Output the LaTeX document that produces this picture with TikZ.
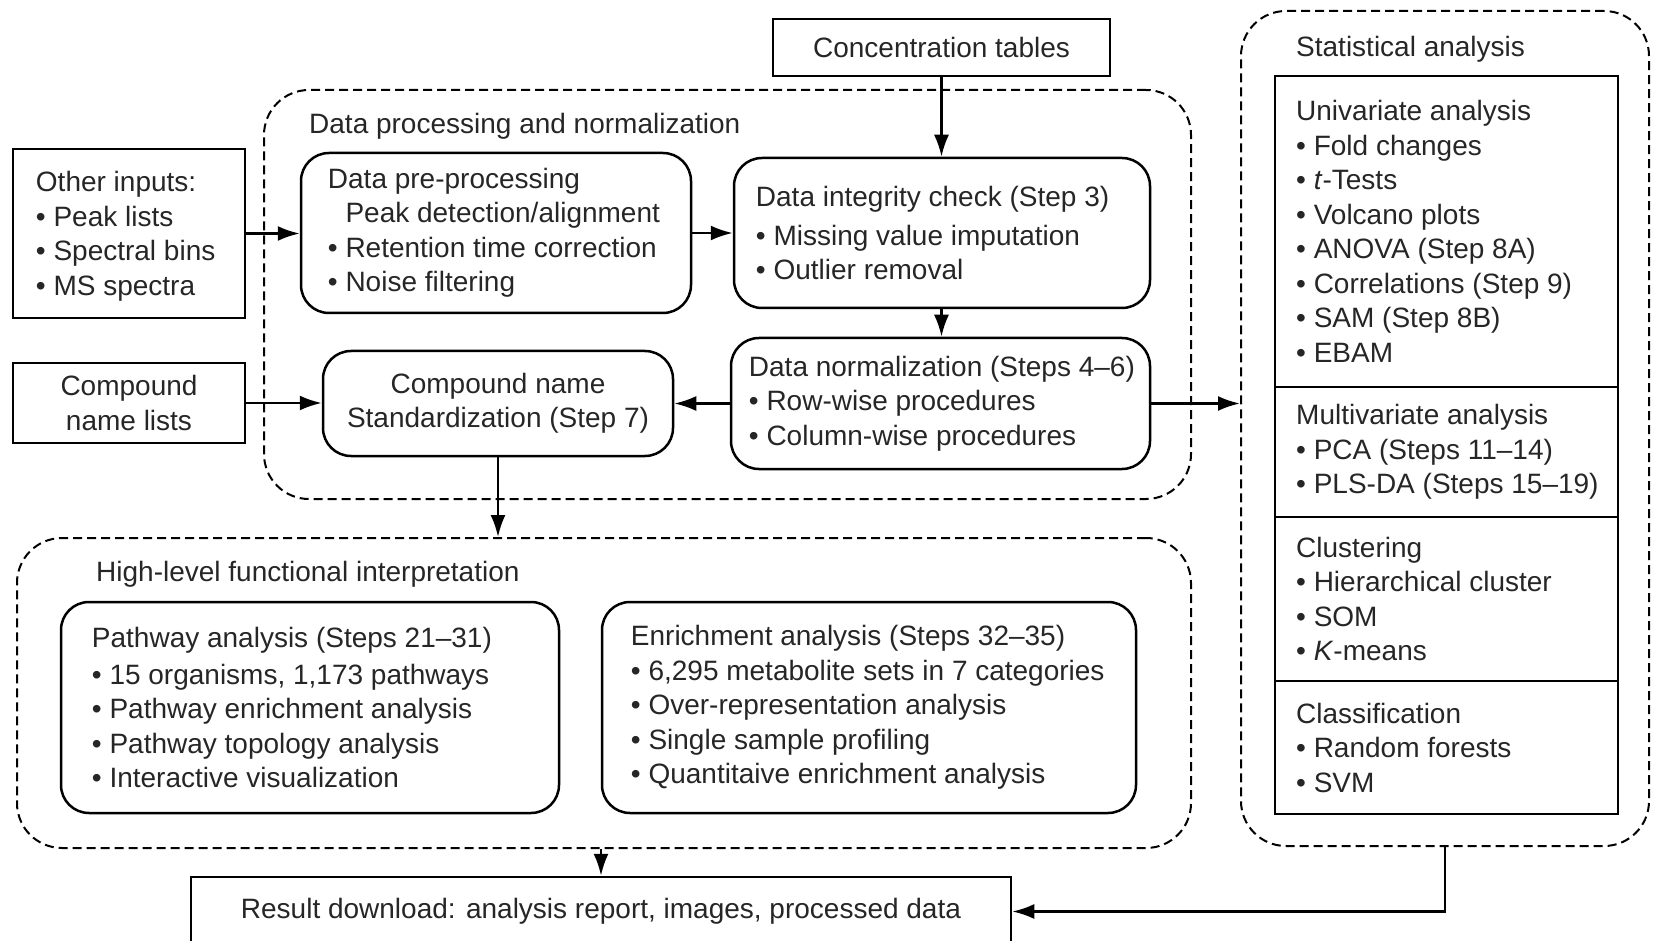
\documentclass[tikz,border=0pt]{standalone}
\usepackage{fontspec}
\setmainfont{Liberation Sans}
\usetikzlibrary{arrows.meta,positioning}

\newcommand{\itm}{\textbullet\ }

\tikzset{
  box/.style={draw, line width=2.5pt, inner sep=0pt, align=center},
  rbox/.style={box, rounded corners=28pt},
  part/.style={box, outer sep=0pt, minimum width=343pt},
  group/.style={draw, line width=2pt, dash pattern=on 9pt off 5pt, rounded corners=45pt, inner sep=0pt},
  txt/.style={inner sep=0pt, align=left},
  conn/.style={line width=2.5pt, ->},
}

\begin{document}
\begin{tikzpicture}[x=1pt, y=-1pt, >={Latex[length=22pt,width=15pt]},
  every node/.style={font=\fontsize{28}{34.5}\selectfont, text=black!85}]
\useasboundingbox (0,0) rectangle (1655,941);

% dashed groups
\node[group, minimum width=927pt, minimum height=409pt] (proc) at (727.5,294.5) {};
\node[txt, anchor=west] (proc-t) at (309,126) {Data processing and normalization};
\node[group, minimum width=408pt, minimum height=835pt] (stat) at (1445,428.5) {};
\node[txt, anchor=west] (stat-t) at (1296,49) {Statistical analysis};
\node[group, minimum width=1174pt, minimum height=310pt] (hl) at (604,693) {};
\node[txt, anchor=west] (hl-t) at (96,574) {High-level functional interpretation};

% inputs
\node[box, minimum width=337pt, minimum height=57pt] (conc) at (941.5,47.5) {Concentration tables};
\node[box, minimum width=232pt, minimum height=169pt] (other) at (129,233.5) {};
\node[txt, right=24pt of other.west, yshift=-3pt] (other-t) {Other inputs:\\ \itm Peak lists\\ \itm Spectral bins\\ \itm MS spectra};
\node[box, minimum width=232pt, minimum height=80pt] (lists) at (129,403) {Compound\\ name lists};

% processing steps
\node[rbox, minimum width=390pt, minimum height=160pt] (prep) at (496,233) {};
\node[txt, right=28pt of prep.west] (prep-t) {Data pre-processing\\ \hphantom{\itm}Peak detection/alignment\\ \itm Retention time correction\\ \itm Noise filtering};
\node[rbox, minimum width=416pt, minimum height=150pt] (integ) at (942,233) {};
\node[txt, right=23pt of integ.west] (integ-t) {Data integrity check (Step 3)\\[4pt] \itm Missing value imputation\\ \itm Outlier removal};
\node[rbox, minimum width=419pt, minimum height=131pt] (norm) at (940.5,403.5) {};
\node[txt, right=19pt of norm.west] (norm-t) {Data normalization (Steps 4--6)\\ \itm Row-wise procedures\\ \itm Column-wise procedures};
\node[rbox, minimum width=350pt, minimum height=105pt] (std) at (498,403.5) {Compound name\\ Standardization (Step 7)};

% statistics
\node[part, minimum height=311pt] (uni) at (1446.5,231.5) {};
\node[part, minimum height=130pt, below=0pt of uni] (multi) {};
\node[part, minimum height=164pt, below=0pt of multi] (clus) {};
\node[part, minimum height=133pt, below=0pt of clus] (cls) {};
\node[txt, right=21pt of uni.west] (uni-t) {Univariate analysis\\ \itm Fold changes\\ \itm \textit{t}-Tests\\ \itm Volcano plots\\ \itm ANOVA (Step 8A)\\ \itm Correlations (Step 9)\\ \itm SAM (Step 8B)\\ \itm EBAM};
\node[txt, right=21pt of multi.west] (multi-t) {Multivariate analysis\\ \itm PCA (Steps 11--14)\\ \itm PLS-DA (Steps 15--19)};
\node[txt, right=21pt of clus.west] (clus-t) {Clustering\\ \itm Hierarchical cluster\\ \itm SOM\\ \itm \textit{K}-means};
\node[txt, right=21pt of cls.west] (cls-t) {Classification\\ \itm Random forests\\ \itm SVM};

% interpretation
\node[rbox, minimum width=498pt, minimum height=211pt] (path) at (310,707.5) {};
\node[txt, right=32pt of path.west] (path-t) {Pathway analysis (Steps 21--31)\\[2pt] \itm 15 organisms, 1,173 pathways\\ \itm Pathway enrichment analysis\\ \itm Pathway topology analysis\\ \itm Interactive visualization};
\node[rbox, minimum width=534pt, minimum height=211pt] (enr) at (869,707.5) {};
\node[txt, right=30pt of enr.west] (enr-t) {Enrichment analysis (Steps 32--35)\\ \itm 6,295 metabolite sets in 7 categories\\ \itm Over-representation analysis\\ \itm Single sample profiling\\ \itm Quantitaive enrichment analysis};

% output
\node[box, minimum width=820pt, minimum height=69pt] (res) at (601,911.5) {Result download: analysis report, images, processed data};

\draw[conn] (other.east) -- (other.east -| prep.west);
\draw[conn] (prep.east) -- (prep.east -| integ.west);
\draw[conn] (conc.south) -- (conc.south |- integ.north);
\draw[conn] (integ.south -| conc.south) -- (norm.north -| conc.south);
\draw[conn] (lists.east) -- (lists.east -| std.west);
\draw[conn] (norm.west |- std.east) -- (std.east);
\draw[conn] (norm.east |- std.east) -- (std.east -| stat.west);
\draw[conn] (std.south) -- (std.south |- hl.north);
\draw[conn] (res.north |- hl.south) -- (res.north);
\draw[conn] (stat.south) |- (res.east);
\end{tikzpicture}
\end{document}
